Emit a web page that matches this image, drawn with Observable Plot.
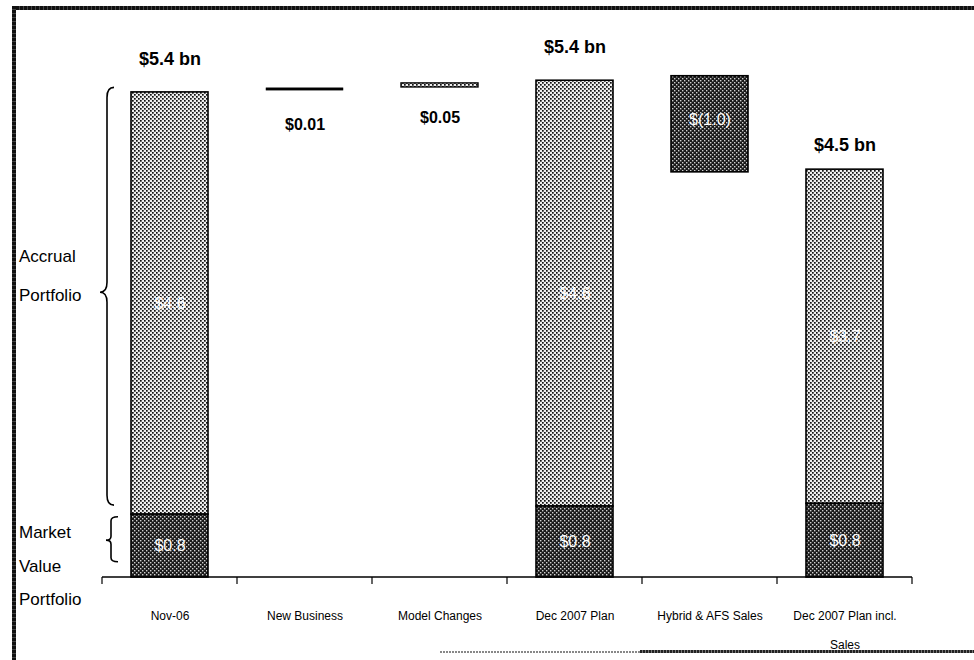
<!DOCTYPE html>
<html><head><meta charset="utf-8">
<script src="https://cdn.jsdelivr.net/npm/d3@7"></script>
<script src="https://cdn.jsdelivr.net/npm/@observablehq/plot@0.6"></script>
<style>
body{margin:0;background:#fff;}
#wrap{position:relative;width:974px;height:660px;overflow:hidden;background:#fff;}
#wrap svg{position:absolute;left:0;top:0;background:transparent;}
.bd{position:absolute;}
</style></head><body><div id="wrap"></div>
<script>
// ---- data (bn USD) ----
const categories = ["Nov-06", "New Business", "Model Changes", "Dec 2007 Plan", "Hybrid & AFS Sales", "Dec 2007 Plan incl.\nSales"];

// stacked columns
const stackCats = ["Nov-06", "Dec 2007 Plan", "Dec 2007 Plan incl.\nSales"];
const marketValue = [0.70, 0.79, 0.82];
const accrual = [4.70, 4.74, 3.72];
const marketLabels = ["$0.8", "$0.8", "$0.8"];
const accrualLabels = ["$4.6", "$4.6", "$3.7"];
const totalLabels = ["$5.4 bn", "$5.4 bn", "$4.5 bn"];

// floating step bars
const stepCats = ["New Business", "Model Changes", "Hybrid & AFS Sales"];
const stepFrom = [5.42, 5.455, 5.58];
const stepTo = [5.445, 5.50, 4.51];
const stepLabels = ["$0.01", "$0.05", "$(1.0)"];

// ---- tables ----
const mvRows = stackCats.map((c, i) => ({cat: c, y1: 0, y2: marketValue[i], label: marketLabels[i]}));
const acRows = stackCats.map((c, i) => ({cat: c, y1: marketValue[i], y2: marketValue[i] + accrual[i], label: accrualLabels[i]}));
const totRows = stackCats.map((c, i) => ({cat: c, y: marketValue[i] + accrual[i], label: totalLabels[i]}));
const stepRows = stepCats.map((c, i) => ({cat: c, y1: stepFrom[i], y2: stepTo[i], label: stepLabels[i]}));

const NARROW = "'Liberation Sans Narrow', 'Arial Narrow', 'Liberation Sans', Arial, sans-serif";
const SANS = "'Liberation Sans', Arial, sans-serif";

function brace(xHook, xv, xTip, y0, ym, y1, r) {
  return `M${xHook},${y0} Q${xv},${y0} ${xv},${y0 + r} L${xv},${ym - r} Q${xv},${ym} ${xTip},${ym} Q${xv},${ym} ${xv},${ym + r} L${xv},${y1 - r} Q${xv},${y1} ${xHook},${y1}`;
}

function annotations(index, scales, values, dims) {
  const g = d3.create("svg:g");
  const y = scales.y;
  const x0 = dims.marginLeft, x1 = dims.width - dims.marginRight;
  const yb = y(0);
  const n = categories.length, step = (x1 - x0) / n;
  // baseline + ticks at category boundaries
  g.append("line").attr("x1", x0).attr("x2", x1).attr("y1", yb).attr("y2", yb)
    .attr("stroke", "#000").attr("stroke-width", 1.5);
  for (let i = 0; i <= n; i++) {
    g.append("line").attr("x1", x0 + i * step).attr("x2", x0 + i * step)
      .attr("y1", yb).attr("y2", yb + 7).attr("stroke", "#000").attr("stroke-width", 1.2);
  }
  // brackets
  g.append("path").attr("d", brace(x0 + 12, x0 + 5, x0 - 2, y(5.45), y(3.17), y(0.80), 10))
    .attr("fill", "none").attr("stroke", "#000").attr("stroke-width", 1.6);
  g.append("path").attr("d", brace(x0 + 16, x0 + 9, x0 + 4, y(0.67), y(0.41), y(0.17), 4))
    .attr("fill", "none").attr("stroke", "#000").attr("stroke-width", 1.6);
  // side labels
  const lab = [["Accrual", y(3.17) - 30], ["Portfolio", y(3.17) + 9],
               ["Market", 538], ["Value", 572], ["Portfolio", 605]];
  for (const [t, yy] of lab) {
    g.append("text").attr("x", 19).attr("y", yy).attr("font-family", SANS)
      .attr("text-anchor", "start").attr("font-size", 17).attr("fill", "#000").text(t);
  }
  return g.node();
}

const bar = {x: "cat", y1: "y1", y2: "y2", stroke: "#000", strokeWidth: 1.6};

const svg = Plot.plot({
  width: 974,
  height: 660,
  marginLeft: 102,
  marginRight: 62,
  marginTop: 38,
  marginBottom: 83,
  style: {background: "transparent", overflow: "visible"},
  x: {domain: categories, paddingInner: 0.43, paddingOuter: 0.215, axis: null},
  y: {domain: [0, 6], axis: null},
  marks: [
    Plot.barY(acRows, {...bar, fill: "url(#lightPat)"}),
    Plot.barY(mvRows, {...bar, fill: "url(#darkPat)"}),
    Plot.barY(stepRows.slice(0, 1), {x: "cat", y1: "y1", y2: "y2", fill: "#000", stroke: "#000", strokeWidth: 0.5}),
    Plot.barY(stepRows.slice(1, 2), {...bar, fill: "url(#lightPat)", strokeWidth: 1.4}),
    Plot.barY(stepRows.slice(2, 3), {...bar, fill: "url(#darkPat)"}),
    Plot.text(acRows, {x: "cat", y: d => (d.y1 + d.y2) / 2, text: "label", fill: "#fff", fontSize: 16, fontFamily: NARROW}),
    Plot.text(mvRows, {x: "cat", y: d => (d.y1 + d.y2) / 2, text: "label", fill: "#fff", fontSize: 16, fontFamily: NARROW}),
    Plot.text(stepRows.slice(2, 3), {x: "cat", y: d => (d.y1 + d.y2) / 2, dy: -4, text: "label", fill: "#fff", fontSize: 16, fontFamily: NARROW}),
    Plot.text(stepRows.slice(0, 1), {x: "cat", y: "y2", dy: 37, text: "label", fontSize: 16, fontWeight: "bold", fontFamily: SANS, fill: "#000"}),
    Plot.text(stepRows.slice(1, 2), {x: "cat", y: "y1", dy: 30, text: "label", fontSize: 16, fontWeight: "bold", fontFamily: SANS, fill: "#000"}),
    Plot.text(totRows.slice(0, 2), {x: "cat", y: "y", dy: -33, text: "label", fontSize: 18, fontWeight: "bold", fontFamily: SANS, fill: "#000"}),
    Plot.text(totRows.slice(2, 3), {x: "cat", y: "y", dy: -24, text: "label", fontSize: 18, fontWeight: "bold", fontFamily: SANS, fill: "#000"}),
    Plot.axisX({domain: categories, tickSize: 0, tickPadding: 22, fontSize: 12, fontFamily: SANS, lineHeight: 2.4, fill: "#000", label: null}),
    annotations
  ]
});

// halftone patterns
const ns = "http://www.w3.org/2000/svg";
const defs = document.createElementNS(ns, "defs");
defs.innerHTML = `
<pattern id="lightPat" patternUnits="userSpaceOnUse" width="4" height="4">
  <rect width="4" height="4" fill="#eeeeee"/>
  <rect x="0" y="0" width="1.7" height="1.7" fill="#111"/>
  <rect x="2" y="2" width="1.7" height="1.7" fill="#111"/>
</pattern>
<pattern id="darkPat" patternUnits="userSpaceOnUse" width="4" height="4">
  <rect width="4" height="4" fill="#1a1a1a"/>
  <rect x="0" y="0" width="1.4" height="1.4" fill="#d0d0d0"/>
  <rect x="2" y="2" width="1.4" height="1.4" fill="#d0d0d0"/>
</pattern>`;
svg.insertBefore(defs, svg.firstChild);

const wrap = document.getElementById("wrap");
wrap.appendChild(svg);
// scanned frame edges
function edge(css) { const d = document.createElement("div"); d.className = "bd"; d.style.cssText = css; wrap.appendChild(d); }
edge("left:12px;top:6px;width:962px;height:4px;background:repeating-linear-gradient(90deg,#111 0 3px,#444 3px 4px);");
edge("left:12px;top:6px;width:4px;height:654px;background:repeating-linear-gradient(180deg,#111 0 3px,#444 3px 4px);");
edge("left:440px;top:651px;width:200px;height:2px;background:repeating-linear-gradient(90deg,#888 0 2px,#fff 2px 3px);");
edge("left:640px;top:650px;width:334px;height:3px;background:repeating-linear-gradient(90deg,#222 0 2px,#777 2px 3px);");
</script></body></html>
